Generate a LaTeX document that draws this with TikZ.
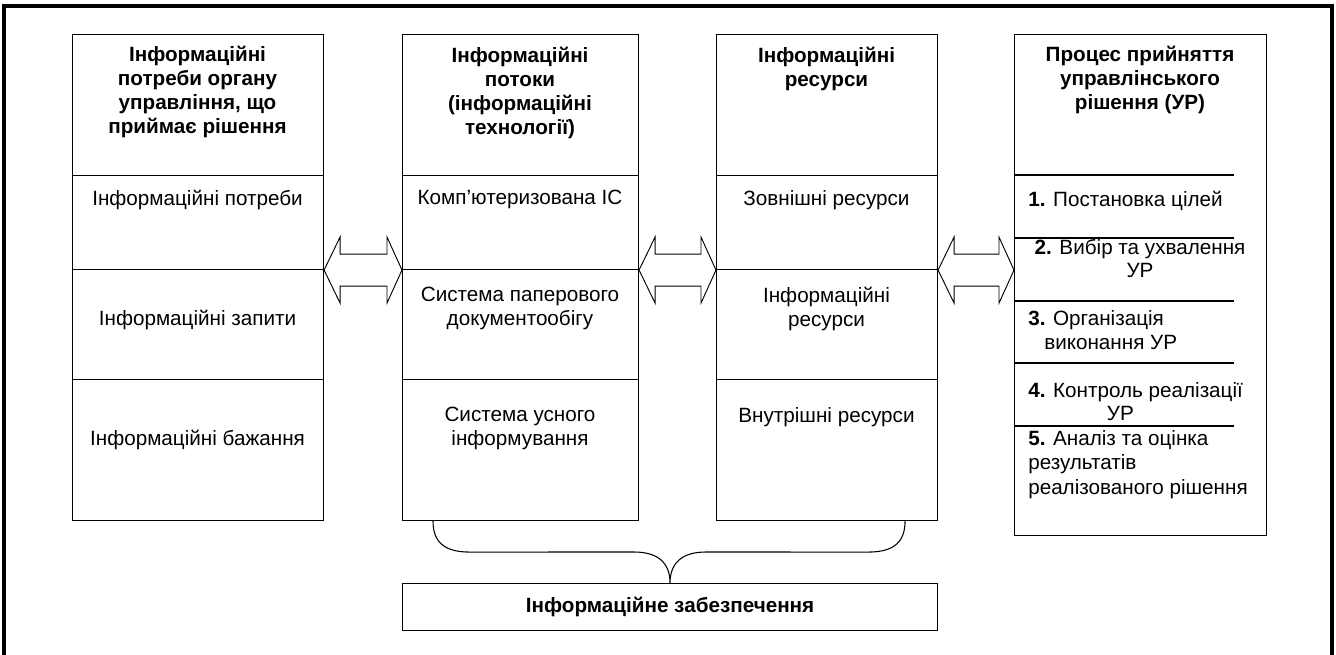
\documentclass[tikz,border=0pt]{standalone}
\usepackage{fontspec}
\setmainfont{Liberation Sans}
\usetikzlibrary{calc}
\tikzset{cell/.style={draw=black,line width=0.8pt,fill=white,rectangle,inner sep=0pt,anchor=north west}}
\tikzset{head/.style={font=\fontsize{15.5}{18}\selectfont\bfseries,align=center,inner sep=0pt,anchor=north}}
\tikzset{body/.style={font=\fontsize{15.5}{18}\selectfont,align=center,inner sep=0pt,anchor=north}}
\tikzset{item/.style={font=\fontsize{15.5}{18.4}\selectfont,align=left,inner sep=0pt,anchor=north west}}
\tikzset{twoway/.style={draw=black,line width=0.7pt,fill=white,line join=miter}}
\tikzset{brace/.style={draw=black,line width=0.8pt}}
\tikzset{frame/.style={draw=black,line width=2.6pt}}
\newcommand{\bothway}[2]{\draw[twoway] (#1) -- ++(16,-33) -- ++(0,17) -- ($(#2)+(-15,-16)$) -- ++(0,-17) -- (#2) -- ++(-15,33) -- ++(0,-17) -- ($(#1)+(16,16)$) -- ++(0,17) -- cycle;}

\begin{document}
\begin{tikzpicture}[x=0.75pt,y=-0.75pt]
                \useasboundingbox (0,0) rectangle (1336,655);
                \draw[frame] (4,655) -- (4,6) -- (1332,6) -- (1332,655);

                % column 1: needs
                \node[cell,minimum width=188.25pt,minimum height=105.75pt] (p1) at (72,34) {};
                \node[cell,minimum width=188.25pt,minimum height=70.5pt] (p2) at (72,175) {};
                \node[cell,minimum width=188.25pt,minimum height=82.5pt] (p3) at (72,269) {};
                \node[cell,minimum width=188.25pt,minimum height=105.75pt] (p4) at (72,379) {};
                \node[head] (p1t) at (197.5,46) {Інформаційні\\потреби органу\\управління, що\\приймає рішення};
                \node[body] (p2t) at (197.5,190) {Інформаційні потреби};
                \node[body] (p3t) at (197.5,310) {Інформаційні запити};
                \node[body] (p4t) at (197.5,430) {Інформаційні бажання};

                % column 2: flows
                \node[cell,minimum width=177pt,minimum height=105.75pt] (f1) at (402,34) {};
                \node[cell,minimum width=177pt,minimum height=70.5pt] (f2) at (402,175) {};
                \node[cell,minimum width=177pt,minimum height=82.5pt] (f3) at (402,269) {};
                \node[cell,minimum width=177pt,minimum height=105.75pt] (f4) at (402,379) {};
                \node[head] (f1t) at (520,47) {Інформаційні\\потоки\\(інформаційні\\технології)};
                \node[body] (f2t) at (520,190) {Комп’ютеризована ІС};
                \node[body] (f3t) at (520,287) {Система паперового\\документообігу};
                \node[body] (f4t) at (520,407) {Система усного\\інформування};

                % column 3: resources
                \node[cell,minimum width=165.75pt,minimum height=105.75pt] (r1) at (716,34) {};
                \node[cell,minimum width=165.75pt,minimum height=70.5pt] (r2) at (716,175) {};
                \node[cell,minimum width=165.75pt,minimum height=82.5pt] (r3) at (716,269) {};
                \node[cell,minimum width=165.75pt,minimum height=105.75pt] (r4) at (716,379) {};
                \node[head] (r1t) at (826.5,47) {Інформаційні\\ресурси};
                \node[body] (r2t) at (826.5,190) {Зовнішні ресурси};
                \node[body] (r3t) at (826.5,287) {Інформаційні\\ресурси};
                \node[body] (r4t) at (826.5,407) {Внутрішні ресурси};

                % column 4: decision process
                \node[cell,minimum width=189pt,minimum height=375.75pt] (pr) at (1014,34) {};
                \foreach \y in {175,238,301,363,426}
                  \draw[brace] (pr.west |- 0,\y) -- ++(220,0);
                \node[head] (prt) at (1140,46) {Процес прийняття\\управлінського\\рішення (УР)};
                \node[item] (s1) at (1028,191) {\textbf{1.} Постановка цілей};
                \node[body,font=\fontsize{15.5}{17.2}\selectfont] (s2) at (1140,239) {\textbf{2.} Вибір та ухвалення\\УР};
                \node[item] (s3) at (1028,310) {\textbf{3.} Організація\\\hspace*{12pt}виконання УР};
                \node[item,font=\fontsize{15.5}{17.2}\selectfont] (s4) at (1028,382) {\textbf{4.} Контроль реалізації\\\hspace*{59pt}УР};
                \node[item] (s5) at (1028,430) {\textbf{5.} Аналіз та оцінка\\результатів\\реалізованого рішення};

                % bottom block
                \node[cell,minimum width=401.25pt,minimum height=35.25pt,font=\fontsize{15.5}{18}\selectfont\bfseries] (zb) at (402,583) {Інформаційне забезпечення};

                % arrows
                \coordinate (pin) at (r2.south east -| pr.west);
                \bothway{p2.south east}{f2.south west}
                \bothway{f2.south east}{r2.south west}
                \bothway{r2.south east}{pin}

                % brace
                \coordinate (bl) at ($(f4.south west)+(31,0)$);
                \coordinate (br) at ($(r4.south east)+(-33,0)$);
                \draw[brace] (bl) .. controls +(0,24) and +(-22,0) .. ($(bl)+(37,31)$) -- ($(zb.north)+(-36,-31)$) .. controls +(24,0) and +(0,-20) .. (zb.north) .. controls +(0,-20) and +(-24,0) .. ($(zb.north)+(36,-31)$) -- ($(br)+(-37,31)$) .. controls +(22,0) and +(0,24) .. (br);
                \end{tikzpicture}
\end{document}
